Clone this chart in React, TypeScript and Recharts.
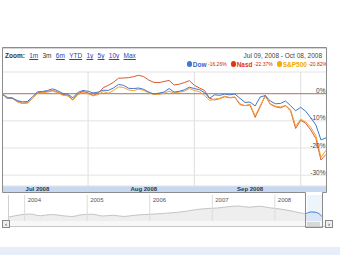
import React from "react";
import {
  LineChart,
  Line,
  XAxis,
  YAxis,
  CartesianGrid,
  ReferenceLine,
  AreaChart,
  Area,
  ReferenceArea,
} from "recharts";

// trading days shown in the 3 month window
const tradingDays = [
  "Jul 09", "Jul 10", "Jul 11", "Jul 14", "Jul 15", "Jul 16", "Jul 17", "Jul 18",
  "Jul 21", "Jul 22", "Jul 23", "Jul 24", "Jul 25", "Jul 28", "Jul 29", "Jul 30", "Jul 31",
  "Aug 01", "Aug 04", "Aug 05", "Aug 06", "Aug 07", "Aug 08", "Aug 11", "Aug 12", "Aug 13",
  "Aug 14", "Aug 15", "Aug 18", "Aug 19", "Aug 20", "Aug 21", "Aug 22", "Aug 25", "Aug 26",
  "Aug 27", "Aug 28", "Aug 29",
  "Sep 02", "Sep 03", "Sep 04", "Sep 05", "Sep 08", "Sep 09", "Sep 10", "Sep 11", "Sep 12",
  "Sep 15", "Sep 16", "Sep 17", "Sep 18", "Sep 19", "Sep 22", "Sep 23", "Sep 24", "Sep 25",
  "Sep 26", "Sep 29", "Sep 30",
  "Oct 01", "Oct 02", "Oct 03", "Oct 06", "Oct 07", "Oct 08",
];

// % change since Jul 09
const dowPct = [
  0, -1.7, -1.6, -2.5, -3.0, -2.9, -1.2, 0.7, 0.8, 1.2, 1.8, 1.1, 0.1, -0.2, -1.5, 0.5, 1.2,
  0.9, 0.3, 0.6, 1.3, 1.2, 2.1, 3.4, 3.1, 2.0, 1.9, 2.1, 1.6, 0.6, -0.1, 0.2, 0.6, 1.9, 0.6,
  0.9, 1.4, 2.4,
  1.9, 1.5, 0.4, -1.7, -0.4, -0.6, -0.1, -0.4, -0.1, -1.7, -3.2, -3.1, -4.5, -1.2, -0.7, -2.7,
  -3.7, -3.6, -2.7, -4.4, -6.3,
  -5.0, -6.5, -8.9, -11.5, -17.0, -16.26,
];
const nasdPct = [
  0, -1.3, -1.5, -2.8, -3.5, -3.3, -1.8, 0.3, 0.6, 0.8, 1.2, 0.6, -0.3, -0.6, -2.2, 0.0, 0.8,
  0.3, -0.6, 0.2, 2.2, 3.1, 4.2, 5.7, 5.8, 5.9, 6.3, 6.8, 6.3, 5.0, 4.2, 4.1, 4.5, 4.9, 3.2,
  3.5, 4.1, 4.8,
  3.1, 2.1, 1.2, -1.7, -2.3, -1.8, -1.1, -1.5, -1.3, -4.0, -4.4, -4.1, -8.7, -4.8, -0.6, -3.9,
  -4.8, -5.2, -4.4, -6.3, -12.8,
  -9.8, -10.9, -13.4, -16.5, -24.4, -22.37,
];
const spPct = [
  0, -1.4, -1.7, -3.0, -3.6, -3.5, -1.8, 0.1, 0.4, 0.6, 1.0, 0.4, -0.6, -0.8, -2.4, -0.3, 0.4,
  0.0, -0.8, -0.3, 0.8, 0.2, 1.2, 2.5, 2.3, 1.4, 1.1, 1.7, 1.2, 0.3, -0.3, -0.3, 0.2, 0.9, 0.3,
  0.6, 0.9, 1.9,
  1.2, 0.7, -0.6, -2.5, -2.0, -1.7, -0.9, -1.4, -1.2, -3.7, -4.4, -3.9, -8.2, -4.4, -0.9, -3.7,
  -4.6, -4.9, -4.3, -5.9, -12.0,
  -9.4, -10.4, -12.4, -15.5, -23.4, -20.82,
];

const monthStarts = ["Aug 01", "Sep 02", "Oct 01"];
const monthLabelDays = ["Jul 18", "Aug 18", "Sep 17"];
const monthLabels = ["Jul 2008", "Aug 2008", "Sep 2008"];
const pctTicks = [0, -10, -20, -30];

const seriesNames = ["Dow", "Nasd", "S&P500"];
const seriesChanges = ["-16.26%", "-22.37%", "-20.82%"];

const zoomLinks = ["1m", "3m", "6m", "YTD", "1y", "5y", "10y", "Max"];
const activeZoom = "3m";
const rangeText = "Jul 09, 2008 - Oct 08, 2008";

// overview strip (Dow level)
const navMonths = [
  "2003-10", "2003-12", "2004-02", "2004-04", "2004-06", "2004-08", "2004-10", "2004-12",
  "2005-02", "2005-04", "2005-06", "2005-08", "2005-10", "2005-12", "2006-02", "2006-04",
  "2006-06", "2006-08", "2006-10", "2006-12", "2007-02", "2007-04", "2007-06", "2007-08",
  "2007-10", "2007-12", "2008-02", "2008-04", "2008-06", "2008-07", "2008-08", "2008-09",
  "2008-10",
];
const navValues = [
  9600, 10400, 10800, 10100, 10600, 10200, 9800, 10500,
  10700, 10000, 10300, 9800, 10300, 10600, 10800, 11100,
  11400, 11900, 12600, 13000, 13200, 13700, 14000, 13500,
  13900, 13300, 12800, 12100, 11200, 11000, 11600, 11400,
  9900,
];
const navYears = [2004, 2005, 2006, 2007, 2008];
const selectionFrom = "2008-07";

const FONT = "'Liberation Sans', Arial, sans-serif";
const COLORS = { dow: "#3f78c8", nasd: "#d65a30", sp: "#f5a030" };
const TEXT_COLORS = ["#3366cc", "#dc3912", "#f0a800"];
const DOT_COLORS = ["#3f78c8", "#dc3912", "#f5a800"];

const mainData = tradingDays.map((d, i) => ({
  i,
  date: d,
  dow: dowPct[i],
  nasd: nasdPct[i],
  sp: spPct[i],
}));

const monthNum = (m: string) => {
  const [y, mo] = m.split("-").map(Number);
  return y + (mo - 1) / 12;
};
const navData = navMonths.map((m, k) => ({
  t: monthNum(m),
  v: navValues[k],
  sel: m >= selectionFrom ? navValues[k] : null,
}));

const MonthTick = (props: any) => {
  const { x, y, payload } = props;
  const k = monthLabelDays.indexOf(tradingDays[payload.value]);
  return (
    <text x={x} y={y + 5} textAnchor="middle" fontSize={6} fontWeight="bold" fill="#2b3a4e" fontFamily={FONT}>
      {monthLabels[k]}
    </text>
  );
};

const App: React.FC = () => {
  return (
    <div
      style={{
        position: "absolute",
        left: 0,
        top: 0,
        width: 340,
        height: 255,
        background: "#fff",
        fontFamily: FONT,
        overflow: "hidden",
      }}
    >
      {/* month band under the plot */}
      <div style={{ position: "absolute", left: 2, top: 186, width: 324, height: 6, background: "#c6d9f1" }} />

      {/* zoom links */}
      <div style={{ position: "absolute", left: 5, top: 52, fontSize: 6.5, display: "flex", gap: 4.3, whiteSpace: "nowrap" }}>
        <span style={{ fontWeight: "bold", color: "#333" }}>Zoom:</span>
        {zoomLinks.map((z) => (
          <span
            key={z}
            style={
              z === activeZoom
                ? { color: "#333" }
                : { color: "#2a45b8", textDecoration: "underline" }
            }
          >
            {z}
          </span>
        ))}
      </div>

      {/* date range */}
      <div style={{ position: "absolute", right: 18, top: 52, fontSize: 6.5, color: "#444", whiteSpace: "nowrap" }}>
        {rangeText}
      </div>

      {/* legend */}
      <div style={{ position: "absolute", right: 13, top: 60.5, display: "flex", alignItems: "center", whiteSpace: "nowrap" }}>
        {seriesNames.map((n, k) => (
          <span key={n} style={{ display: "flex", alignItems: "center", marginLeft: k === 0 ? 0 : 4 }}>
            <span style={{ width: 5.5, height: 5.5, borderRadius: 3, background: DOT_COLORS[k], display: "inline-block" }} />
            <span style={{ fontSize: 6.5, fontWeight: "bold", color: TEXT_COLORS[k], marginLeft: 0.5 }}>{n}</span>
            <span style={{ fontSize: 5, color: "#d02020", marginLeft: 1.5 }}>{seriesChanges[k]}</span>
          </span>
        ))}
      </div>

      {/* main chart */}
      <div style={{ position: "absolute", left: 0, top: 0 }}>
        <LineChart width={340} height={200} data={mainData} margin={{ top: 72, right: 14, bottom: 6, left: 2 }}>
          <CartesianGrid vertical={false} stroke="#e3e3e3" />
          <XAxis
            dataKey="i"
            type="number"
            domain={[0, tradingDays.length - 1]}
            ticks={monthLabelDays.map((d) => tradingDays.indexOf(d))}
            tick={<MonthTick />}
            tickLine={false}
            axisLine={false}
            tickSize={0}
            tickMargin={0}
            height={8}
            interval={0}
          />
          <YAxis
            orientation="right"
            width={0}
            domain={[-34, 8]}
            ticks={pctTicks}
            tick={false}
            tickLine={false}
            axisLine={false}
          />
          {monthStarts.map((d) => (
            <ReferenceLine key={d} x={tradingDays.indexOf(d)} stroke="#dedede" />
          ))}
          {pctTicks.map((t) => (
            <ReferenceLine
              key={t}
              y={t}
              stroke={t === 0 ? "#9a7868" : "#e3e3e3"}
              label={{
                value: `${t}%`,
                position: "insideBottomRight",
                offset: 0.5,
                fontSize: 6.5,
                fill: "#444",
                fontFamily: FONT,
              }}
            />
          ))}
          <Line type="linear" dataKey="nasd" stroke={COLORS.nasd} strokeWidth={1} dot={false} isAnimationActive={false} />
          <Line type="linear" dataKey="sp" stroke={COLORS.sp} strokeWidth={1} dot={false} isAnimationActive={false} />
          <Line type="linear" dataKey="dow" stroke={COLORS.dow} strokeWidth={1} dot={false} isAnimationActive={false} />
        </LineChart>
      </div>

      {/* overview strip */}
      <div style={{ position: "absolute", left: 8, top: 195, borderLeft: "1px solid #d0d0d0" }}>
        <AreaChart width={314} height={26} data={navData} margin={{ top: 0, right: 0, bottom: 0, left: 0 }}>
          <XAxis dataKey="t" type="number" domain={[2003.75, 2008.77]} hide />
          <YAxis domain={[8000, 18400]} hide />
          {navYears.map((y) => (
            <ReferenceLine
              key={y}
              x={y}
              stroke="#dcdcdc"
              label={{ value: String(y), position: "insideTopLeft", offset: 3, fontSize: 6, fill: "#555" }}
            />
          ))}
          <ReferenceArea x1={2008.52} x2={2008.77} fill="#eef4fc" fillOpacity={1} stroke="none" />
          <Area type="monotone" dataKey="v" stroke="#c4c4c4" strokeWidth={1} fill="#eeeeee" fillOpacity={1} isAnimationActive={false} />
          <Area type="monotone" dataKey="sel" stroke="#4a86d8" strokeWidth={1} fill="#d9e6f7" fillOpacity={1} isAnimationActive={false} />
        </AreaChart>
      </div>

      {/* scroll bar */}
      <div style={{ position: "absolute", left: 9, top: 221, width: 316, height: 5, borderBottom: "1px solid #c8c8c8", background: "#f7f7f7" }} />
      <div style={{ position: "absolute", left: 2, top: 220, width: 6, height: 6, border: "1px solid #888", background: "#eee", fontSize: 6, lineHeight: "6px", textAlign: "center", color: "#222" }}>‹</div>
      <div style={{ position: "absolute", left: 325, top: 220, width: 6, height: 6, border: "1px solid #888", background: "#eee", fontSize: 6, lineHeight: "6px", textAlign: "center", color: "#222" }}>›</div>
      <div style={{ position: "absolute", left: 307, top: 222, width: 13, height: 4, background: "#d8d8d8" }} />

      {/* bottom bar */}
      <div style={{ position: "absolute", left: 0, top: 247, width: 340, height: 8, background: "#e8eef9" }} />

      {/* frame */}
      <svg width={340} height={255} style={{ position: "absolute", left: 0, top: 0, pointerEvents: "none" }}>
        <path
          d="M2.5,192.5 L2.5,47.5 L326.5,47.5 L326.5,192.5 L322.5,192.5 L322.5,227.5 L305.5,227.5 L305.5,192.5 Z"
          fill="none"
          stroke="#8c8c8c"
        />
        <line x1={3} y1={48.5} x2={326} y2={48.5} stroke="#d6d6d6" />
      </svg>
    </div>
  );
};

export default App;
